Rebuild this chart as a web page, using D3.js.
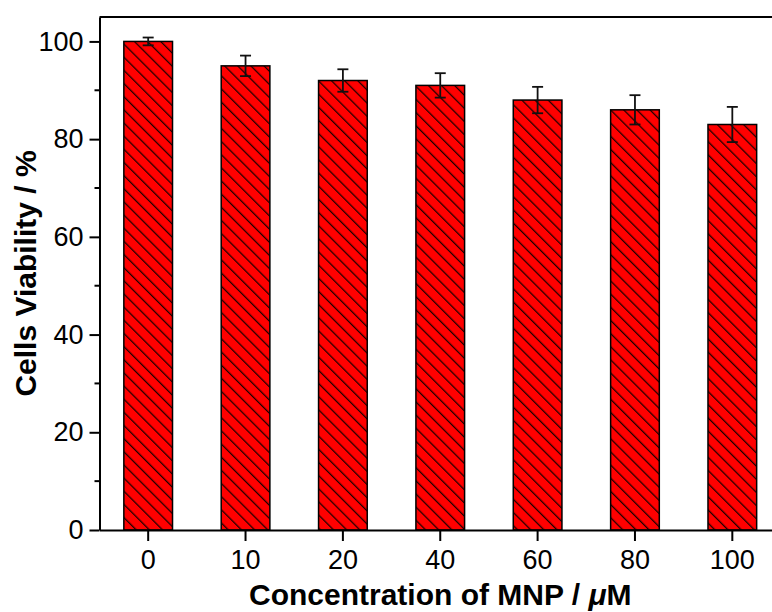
<!DOCTYPE html>
<html>
<head>
<meta charset="utf-8">
<script src="https://cdn.jsdelivr.net/npm/d3@7"></script>
<style>
  html, body { margin: 0; padding: 0; background: #fff; overflow: hidden; }
  svg { display: block; }
</style>
</head>
<body>
<svg id="chart" width="772" height="612"></svg>
<script>
const categories = ["0", "10", "20", "40", "60", "80", "100"];
const values = [100, 95, 92, 91, 88, 86, 83];
const errors = [0.8, 2.1, 2.3, 2.5, 2.7, 3.0, 3.6];
const yTicks = [0, 20, 40, 60, 80, 100];
const yMinorTicks = [10, 30, 50, 70, 90];

(function () {
const svg = d3.select("#chart");
const mLeft = 99.5, mRight = 781, mTop = 17, mBottom = 530;
const font = "'Liberation Sans', Arial, sans-serif";

const x = d3.scaleBand().domain(categories).range([mLeft, mRight]).paddingInner(0.5).paddingOuter(0.25);
const y = d3.scaleLinear().domain([0, 105]).range([mBottom, mTop]);

// hatch pattern
const defs = svg.append("defs");
const pat = defs.append("pattern")
  .attr("id", "hatch")
  .attr("patternUnits", "userSpaceOnUse")
  .attr("width", 9.3).attr("height", 10)
  .attr("patternTransform", "rotate(-45)");
pat.append("rect").attr("width", 9.3).attr("height", 10).attr("fill", "#ff0000");
pat.append("line").attr("x1", 0.6).attr("y1", 0).attr("x2", 0.6).attr("y2", 10)
  .attr("stroke", "#1a0000").attr("stroke-width", 1.3);

// bars
svg.append("g").selectAll("rect").data(values).join("rect")
  .attr("x", (d, i) => x(categories[i]))
  .attr("y", d => y(d))
  .attr("width", x.bandwidth())
  .attr("height", d => y(0) - y(d))
  .attr("fill", "url(#hatch)")
  .attr("stroke", "#000").attr("stroke-width", 1.5);

// error bars
const eg = svg.append("g").attr("stroke", "#111").attr("stroke-width", 1.8).attr("fill", "none");
values.forEach((v, i) => {
  const cx = x(categories[i]) + x.bandwidth() / 2;
  const e = errors[i];
  eg.append("line").attr("x1", cx).attr("x2", cx).attr("y1", y(v + e)).attr("y2", y(v - e));
  eg.append("line").attr("x1", cx - 5.5).attr("x2", cx + 5.5).attr("y1", y(v + e)).attr("y2", y(v + e));
  eg.append("line").attr("x1", cx - 5.5).attr("x2", cx + 5.5).attr("y1", y(v - e)).attr("y2", y(v - e));
});

// top border
svg.append("line").attr("x1", mLeft).attr("x2", mRight).attr("y1", mTop).attr("y2", mTop)
  .attr("stroke", "#000").attr("stroke-width", 2);

// y axis
const yAxis = svg.append("g").attr("transform", `translate(${mLeft},0)`)
  .call(d3.axisLeft(y).tickValues(yTicks).tickSize(10).tickSizeOuter(0).tickPadding(6));
yAxis.select(".domain").attr("stroke-width", 2);
yAxis.selectAll(".tick line").attr("stroke-width", 2);
yAxis.selectAll("text").attr("font-family", font).attr("font-size", 27).attr("fill", "#000");
svg.append("g").selectAll("line").data(yMinorTicks).join("line")
  .attr("x1", mLeft - 5).attr("x2", mLeft).attr("y1", d => y(d)).attr("y2", d => y(d))
  .attr("stroke", "#000").attr("stroke-width", 2);

// x axis
const xAxis = svg.append("g").attr("transform", `translate(0,${mBottom})`)
  .call(d3.axisBottom(x).tickSize(11).tickSizeOuter(0).tickPadding(9));
xAxis.select(".domain").attr("stroke-width", 2);
xAxis.selectAll(".tick line").attr("stroke-width", 2);
xAxis.selectAll("text").attr("font-family", font).attr("font-size", 27).attr("fill", "#000");

// axis titles
svg.append("text")
  .attr("transform", `translate(36,${(mTop + mBottom) / 2}) rotate(-90)`)
  .attr("text-anchor", "middle")
  .attr("font-family", font).attr("font-size", 30).attr("font-weight", "bold")
  .text("Cells Viability / %");

const xt = svg.append("text")
  .attr("x", (mLeft + mRight) / 2).attr("y", 605)
  .attr("text-anchor", "middle")
  .attr("font-family", font).attr("font-size", 30).attr("font-weight", "bold");
xt.append("tspan").text("Concentration of MNP / ");
xt.append("tspan").attr("font-style", "italic").text("\u03bc");
xt.append("tspan").text("M");
})();
</script>
</body>
</html>
